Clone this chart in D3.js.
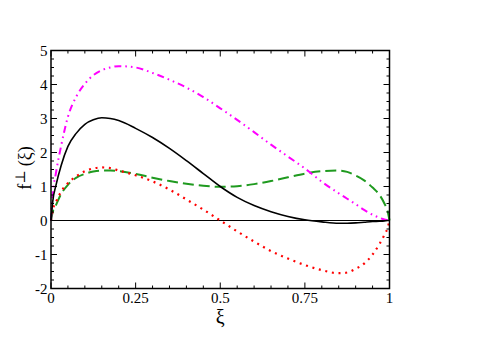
<!DOCTYPE html>
<html><head><meta charset="utf-8">
<script src="https://cdn.jsdelivr.net/npm/d3@7"></script>
<style>body{margin:0;background:#fff}svg{display:block}text{font-family:"Liberation Serif","DejaVu Serif",serif}</style>
</head><body>
<script>
// ---- data ----
const xGrid = [0,0.005,0.015,0.03,0.05,0.075,0.1,0.125,0.15,0.175,0.2,0.25,0.3,0.35,0.4,0.45,0.5,0.55,0.6,0.65,0.7,0.75,0.8,0.85,0.875,0.9,0.925,0.95,0.97,0.985,0.995,1];
const blackVals   = [0,0.55,1.05,1.62,2.18,2.57,2.83,2.96,3.02,3.0,2.94,2.71,2.44,2.12,1.76,1.38,1.0,0.68,0.44,0.26,0.12,0.02,-0.04,-0.08,-0.08,-0.07,-0.05,-0.03,-0.02,-0.01,0,0];
const magentaVals = [0,0.75,1.42,2.2,3.05,3.65,4.02,4.27,4.42,4.5,4.54,4.5,4.34,4.14,3.91,3.63,3.3,2.96,2.6,2.23,1.88,1.53,1.14,0.8,0.64,0.48,0.31,0.17,0.08,0.03,0.01,0];
const redVals     = [0,0.3,0.55,0.85,1.1,1.3,1.45,1.53,1.56,1.54,1.47,1.33,1.15,0.91,0.62,0.32,0,-0.32,-0.62,-0.9,-1.12,-1.31,-1.46,-1.55,-1.53,-1.42,-1.27,-1.0,-0.7,-0.42,-0.2,0];
const greenVals   = [0,0.25,0.46,0.78,1.05,1.26,1.37,1.44,1.47,1.47,1.45,1.37,1.26,1.16,1.08,1.02,0.99,1.01,1.07,1.16,1.27,1.38,1.45,1.47,1.43,1.32,1.18,0.97,0.76,0.5,0.25,0];
const xTicks = [0,0.25,0.5,0.75,1];
const xTickLabels = ["0","0.25","0.5","0.75","1"];
const yTicks = [-2,-1,0,1,2,3,4,5];
const yTickLabels = ["-2","-1","0","1","2","3","4","5"];

const W=480,H=339;
const L=51,R=389.5,T=50.5,B=288.5;
const svg=d3.select("body").append("svg").attr("width",W).attr("height",H);
const x=d3.scaleLinear().domain([0,1]).range([L,R]);
const y=d3.scaleLinear().domain([-2,5]).range([B,T]);

const g=svg.append("g");

// zero line
g.append("line").attr("x1",x(0)).attr("x2",x(1)).attr("y1",y(0)).attr("y2",y(0))
 .attr("stroke","#000").attr("stroke-width",1);

const line=vals=>d3.line().x((d,i)=>x(xGrid[i])).y(d=>y(d)).curve(d3.curveMonotoneX)(vals);

const series=[
 {v:greenVals,c:"#1f9a1f",w:2,dash:"11,5"},
 {v:redVals,c:"#ff0000",w:2.2,dash:"2,4.7"},
 {v:magentaVals,c:"#ff00ff",w:2,dash:"7,4,1.6,4,1.6,4"},
 {v:blackVals,c:"#000",w:1.6,dash:null}
];
series.forEach(s=>{
 g.append("path").attr("d",line(s.v)).attr("fill","none").attr("stroke",s.c)
  .attr("stroke-width",s.w).attr("stroke-dasharray",s.dash);
});

// frame
g.append("rect").attr("x",L).attr("y",T).attr("width",R-L).attr("height",B-T)
 .attr("fill","none").attr("stroke","#000").attr("stroke-width",1.5);

// ticks (inward on all sides)
const xMinor=d3.range(0,1.0001,0.05);
const yMinor=d3.range(-2,5.0001,0.25);
const tk=g.append("g").attr("stroke","#000").attr("stroke-width",1);
xMinor.forEach(v=>{
 const major=xTicks.some(t=>Math.abs(t-v)<1e-6), len=major?6:3;
 tk.append("line").attr("x1",x(v)).attr("x2",x(v)).attr("y1",B).attr("y2",B-len);
 tk.append("line").attr("x1",x(v)).attr("x2",x(v)).attr("y1",T).attr("y2",T+len);
});
yMinor.forEach(v=>{
 const major=yTicks.some(t=>Math.abs(t-v)<1e-6), len=major?6:3;
 tk.append("line").attr("y1",y(v)).attr("y2",y(v)).attr("x1",L).attr("x2",L+len);
 tk.append("line").attr("y1",y(v)).attr("y2",y(v)).attr("x1",R).attr("x2",R-len);
});

// tick labels
xTicks.forEach((v,i)=>{
 g.append("text").attr("x",x(v)).attr("y",303).attr("text-anchor","middle")
  .attr("font-size",15).text(xTickLabels[i]);
});
yTicks.forEach((v,i)=>{
 g.append("text").attr("x",47.5).attr("y",y(v)).attr("dy","0.34em").attr("text-anchor","end")
  .attr("font-size",15).text(yTickLabels[i]);
});

// axis titles
g.append("text").attr("x",(L+R)/2).attr("y",324).attr("text-anchor","middle")
 .attr("font-size",20).text("ξ");
const yl=g.append("text").attr("transform","translate(31,168) rotate(-90)").attr("text-anchor","middle")
 .attr("font-size",18);
yl.append("tspan").text("f");
yl.append("tspan").attr("font-size",14).attr("dy",-6).text("⊥");
yl.append("tspan").attr("dy",6).text(" (ξ)");
</script>
</body></html>
